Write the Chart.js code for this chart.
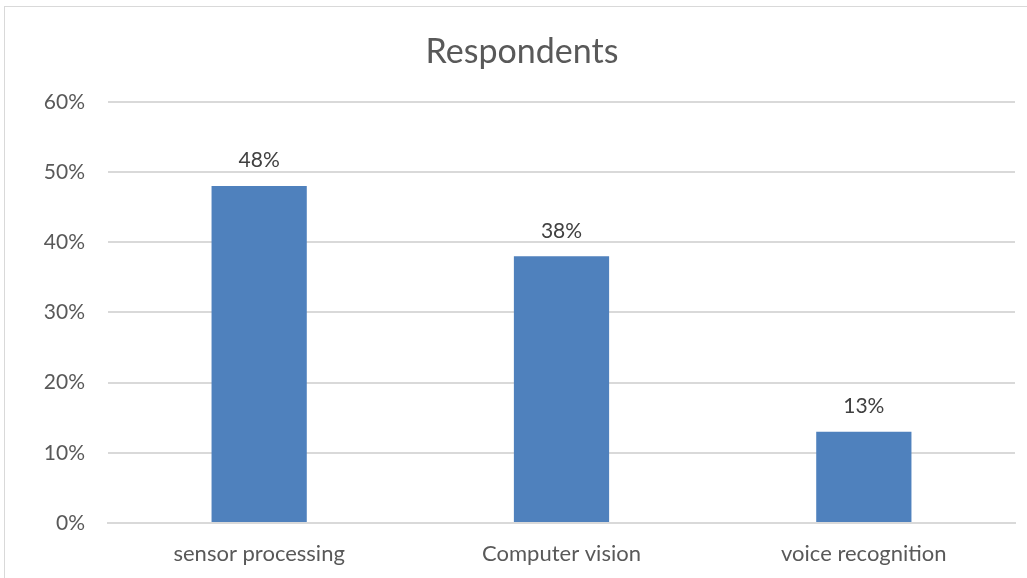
<!DOCTYPE html>
<html>
<head>
<meta charset="utf-8">
<script src="https://cdn.jsdelivr.net/npm/chart.js@4/dist/chart.umd.min.js"></script>
<style>
  body { margin: 0; background: #fff; overflow: hidden; }
  #frame { position: absolute; left: 4px; top: 6px; width: 1040px; height: 600px; border: 1px solid #d9d9d9; }
  #wrap { position: absolute; left: 0; top: 0; width: 1027px; height: 578px; }
</style>
</head>
<body>
<div id="frame"></div>
<div id="wrap"><canvas id="chart"></canvas></div>
<script>
// Daten
const categories = ['sensor processing', 'Computer vision', 'voice recognition'];
const respondents = [48, 38, 13];
const yTicks = [0, 10, 20, 30, 40, 50, 60];

const textColor = '#595959';
const fontFamily = 'Lato, "Open Sans", sans-serif';

// Werte über den Balken
const barLabels = {
    id: 'barLabels',
    afterDatasetsDraw(chart) {
        const ctx = chart.ctx;
        const meta = chart.getDatasetMeta(0);
        ctx.save();
        ctx.fillStyle = '#404040';
        ctx.font = '21px ' + fontFamily;
        ctx.textAlign = 'center';
        ctx.textBaseline = 'bottom';
        meta.data.forEach((bar, i) => {
            ctx.fillText(respondents[i] + '%', bar.x, bar.y - 15);
        });
        ctx.restore();
    }
};

new Chart(document.getElementById('chart'), {
    type: 'bar',
    data: {
        labels: categories,
        datasets: [{
            label: 'Respondents',
            data: respondents,
            backgroundColor: '#4F81BD',
            categoryPercentage: 1,
            barPercentage: 0.315
        }]
    },
    options: {
        responsive: true,
        maintainAspectRatio: false,
        animation: false,
        layout: { padding: { left: 29, right: 12, top: 22, bottom: 0 } },
        plugins: {
            legend: { display: false },
            tooltip: { enabled: false },
            title: {
                display: true,
                text: 'Respondents',
                color: textColor,
                font: { family: fontFamily, size: 34, weight: 'normal' },
                padding: { top: 10, bottom: 29 }
            }
        },
        scales: {
            x: {
                grid: { display: false, drawTicks: false },
                border: { color: '#d9d9d9', width: 2 },
                ticks: { color: textColor, font: { family: fontFamily, size: 22 }, padding: 18 },
                afterFit: axis => { axis.height = 55; }
            },
            y: {
                min: 0,
                max: 60,
                afterBuildTicks: axis => { axis.ticks = yTicks.map(v => ({ value: v })); },
                grid: { color: '#d9d9d9', lineWidth: 2, drawTicks: false },
                border: { display: false },
                ticks: {
                    color: textColor,
                    font: { family: fontFamily, size: 21 },
                    padding: 23,
                    callback: v => v + '%'
                },
                afterFit: axis => { axis.width = 79; }
            }
        }
    },
    plugins: [barLabels]
});
</script>
</body>
</html>
